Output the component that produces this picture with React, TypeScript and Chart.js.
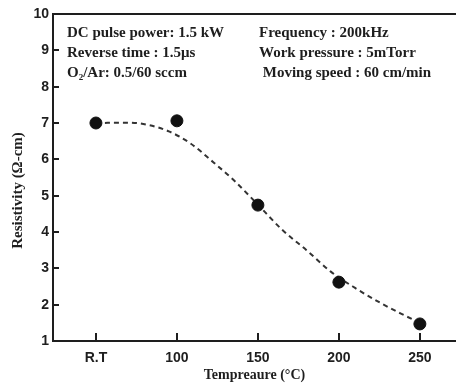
import React, { useEffect, useRef } from "react";
import { Chart, registerables } from "chart.js";

Chart.register(...registerables);

// ---- data ----
const categories = ["R.T", "100", "150", "200", "250"];
const categoryPositions = [50, 100, 150, 200, 250];
const resistivity = [7.0, 7.06, 4.74, 2.62, 1.47];

// dashed fitted curve
const fitTemps = [50, 70, 82, 95, 108, 123, 135, 149, 165, 180, 195, 210, 226, 238, 250];
const fitValues = [7.0, 7.01, 6.95, 6.77, 6.45, 5.9, 5.43, 4.8, 4.06, 3.5, 2.91, 2.46, 2.04, 1.76, 1.5];

const yTicks = [1, 2, 3, 4, 5, 6, 7, 8, 9, 10];

const notesLeft = ["DC pulse power: 1.5 kW", "Reverse time : 1.5μs", "O2/Ar: 0.5/60 sccm"];
const notesRight = ["Frequency : 200kHz", "Work pressure : 5mTorr", " Moving speed : 60 cm/min"];

const xTitle = "Tempreaure (°C)";
const yTitle = "Resistivity (Ω-cm)";

const INK = "#1e1e1e";
const SERIF = '"Liberation Serif", "Times New Roman", serif';
const SANS = '"Liberation Sans", Arial, sans-serif';

const framePlugin = {
  id: "frame",
  afterDraw(chart: any) {
    const { ctx, chartArea, scales } = chart;
    const { left, top, right, bottom } = chartArea;
    const x = scales.x;
    const y = scales.y;
    ctx.save();
    ctx.strokeStyle = INK;
    ctx.lineWidth = 2;
    ctx.beginPath();
    ctx.moveTo(right, top);
    ctx.lineTo(left, top);
    ctx.lineTo(left, bottom);
    ctx.lineTo(right, bottom);
    categoryPositions.forEach((v) => {
      const px = Math.round(x.getPixelForValue(v));
      ctx.moveTo(px, bottom);
      ctx.lineTo(px, bottom - 8);
    });
    yTicks.forEach((v) => {
      const py = Math.round(y.getPixelForValue(v));
      ctx.moveTo(left, py);
      ctx.lineTo(left + 6, py);
    });
    ctx.stroke();

    // y title
    ctx.save();
    ctx.translate(18, (top + bottom) / 2 + 13);
    ctx.rotate(-Math.PI / 2);
    ctx.font = `bold 15px ${SERIF}`;
    ctx.fillStyle = INK;
    ctx.textAlign = "center";
    ctx.textBaseline = "middle";
    ctx.fillText(yTitle, 0, 0);
    ctx.restore();

    // notes
    ctx.fillStyle = INK;
    ctx.textAlign = "left";
    ctx.textBaseline = "middle";
    const font = `bold 15px ${SERIF}`;
    const rows = [top + 19, top + 39, top + 59];
    notesLeft.forEach((t, i) => {
      const xx = left + 14;
      if (t.startsWith("O2")) {
        ctx.font = font;
        ctx.fillText("O", xx, rows[i]);
        const w = ctx.measureText("O").width;
        ctx.font = `bold 9px ${SERIF}`;
        ctx.fillText("2", xx + w, rows[i] + 5);
        const w2 = ctx.measureText("2").width;
        ctx.font = font;
        ctx.fillText(t.slice(2), xx + w + w2, rows[i]);
      } else {
        ctx.font = font;
        ctx.fillText(t, xx, rows[i]);
      }
    });
    notesRight.forEach((t, i) => {
      ctx.font = font;
      ctx.fillText(t, left + 206, rows[i]);
    });
    ctx.restore();
  },
};

export default function App() {
  const ref = useRef<HTMLCanvasElement | null>(null);

  useEffect(() => {
    if (!ref.current) return;
    const chart = new Chart(ref.current, {
      type: "line",
      data: {
        datasets: [
          {
            label: "Resistivity",
            data: categoryPositions.map((t, i) => ({ x: t, y: resistivity[i] })),
            showLine: false,
            pointRadius: 6,
            pointBackgroundColor: "#111",
            pointBorderColor: "#111",
            pointBorderWidth: 1,
          },
          {
            label: "Fit",
            data: fitTemps.map((t, i) => ({ x: t, y: fitValues[i] })),
            borderColor: "#333",
            borderWidth: 2,
            borderDash: [5, 4],
            pointRadius: 0,
            cubicInterpolationMode: "monotone",
            fill: false,
          },
        ],
      },
      options: {
        animation: false,
        responsive: false,
        layout: { padding: { top: 14, left: 0, right: 0, bottom: 0 } },
        plugins: { legend: { display: false }, tooltip: { enabled: false } },
        scales: {
          x: {
            type: "linear",
            min: 23.5,
            max: 272.3,
            afterBuildTicks: (s: any) => {
              s.ticks = categoryPositions.map((v) => ({ value: v }));
            },
            afterFit: (s: any) => {
              s.height = 45;
            },
            ticks: {
              callback: (v: any) => categories[categoryPositions.indexOf(Number(v))] ?? "",
              font: { family: SANS, size: 14, weight: "bold" },
              color: INK,
              padding: 9,
              maxRotation: 0,
              autoSkip: false,
            },
            grid: { display: false, drawTicks: false },
            border: { display: false },
            title: {
              display: true,
              text: xTitle,
              font: { family: SERIF, size: 14, weight: "bold" },
              color: INK,
              padding: { top: 0, bottom: 2 },
            },
          },
          y: {
            type: "linear",
            min: 1,
            max: 10,
            afterBuildTicks: (s: any) => {
              s.ticks = yTicks.map((v) => ({ value: v }));
            },
            afterFit: (s: any) => {
              s.width = 53;
            },
            ticks: {
              font: { family: SANS, size: 14, weight: "bold" },
              color: INK,
              padding: 4,
            },
            grid: { display: false, drawTicks: false },
            border: { display: false },
          },
        },
      },
      plugins: [framePlugin],
    } as any);
    return () => chart.destroy();
  }, []);

  return (
    <div style={{ position: "absolute", left: 0, top: 0, width: 463, height: 386, background: "#fff" }}>
      <canvas ref={ref} width={463} height={386} style={{ display: "block" }} />
    </div>
  );
}
